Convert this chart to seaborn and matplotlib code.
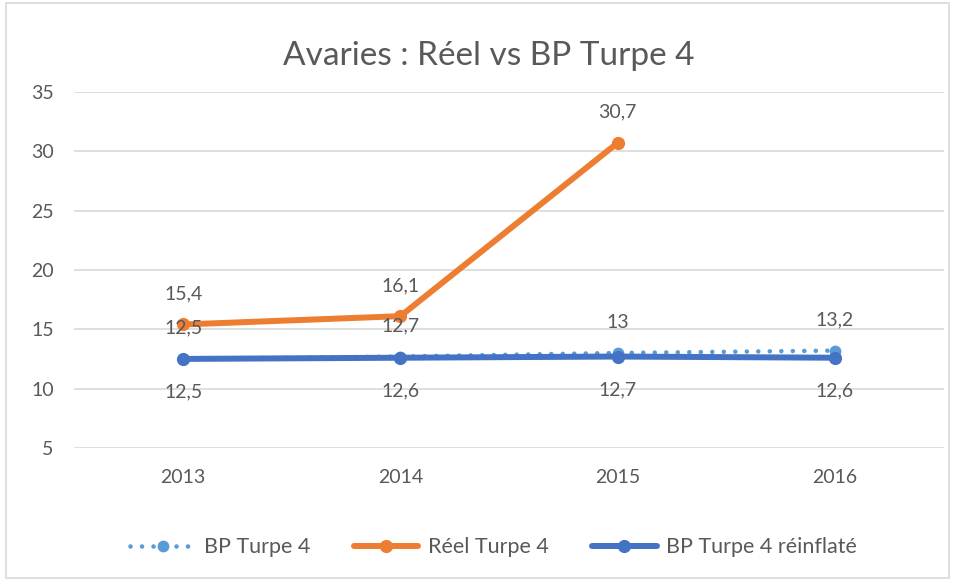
import numpy as np
import pandas as pd

import matplotlib
matplotlib.use("Agg")
import matplotlib.pyplot as plt
import seaborn as sns

sns.set_theme(style="white")
plt.rcParams['font.family'] = ['Lato', 'DejaVu Sans']

# -- Data -- #
years = ['2013', '2014', '2015', '2016']
bp_turpe = [12.5, 12.7, 13.0, 13.2]
reel_turpe = [15.4, 16.1, 30.7, np.nan]
bp_reinflate = [12.5, 12.6, 12.7, 12.6]

series_names = ['BP Turpe 4', 'Réel Turpe 4', 'BP Turpe 4 réinflaté']
series_values = [bp_turpe, reel_turpe, bp_reinflate]
colors = ['#5B9BD5', '#ED7D31', '#4472C4']
label_side = [1, 1, -1]

txt = '#595959'

fig = plt.figure(figsize=(9.55, 5.81), dpi=100)
ax = fig.add_axes([0.078, 0.229, 0.91, 0.613])

for name, vals, col in zip(series_names, series_values, colors):
    df = pd.DataFrame({'Year': years, 'value': vals})
    if name == 'BP Turpe 4':
        sns.lineplot(data=df, x='Year', y='value', ax=ax, color=col, linewidth=3.3,
                     linestyle=(0, (0.01, 2.5)), dash_capstyle='round',
                     marker='o', markersize=8.5, markeredgewidth=0, label=name)
    else:
        sns.lineplot(data=df.dropna(), x='Year', y='value', ax=ax, color=col,
                     linewidth=4.3, solid_capstyle='round',
                     marker='o', markersize=9.5, markeredgewidth=0, label=name)

# data labels, drawn over the lines
for vals, side in zip(series_values, label_side):
    for i, v in enumerate(vals):
        if np.isnan(v):
            continue
        off = 22 if side > 0 else -24
        ax.annotate(f"{v:g}".replace('.', ','), (i, v), xytext=(0, off),
                    textcoords='offset points', ha='center', va='center',
                    fontsize=14, color=txt, zorder=10)

ax.set_ylim(5, 35)
ax.set_yticks(range(5, 36, 5))
ax.set_xlim(-0.5, 3.5)
ax.yaxis.grid(True, color='#D9D9D9', linewidth=1.2)
ax.xaxis.grid(False)
for s in ax.spines.values():
    s.set_visible(False)
ax.tick_params(axis='both', length=0, labelsize=14, colors=txt)
ax.tick_params(axis='x', pad=15.5)
ax.tick_params(axis='y', pad=15)
ax.set_xlabel('')
ax.set_ylabel('')

fig.suptitle('Avaries : Réel vs BP Turpe 4', x=0.512, y=0.93, fontsize=24, color=txt)

ax.legend(loc='center', bbox_to_anchor=(0.517, 0.058), bbox_transform=fig.transFigure,
          ncol=3, frameon=False, fontsize=15.5, labelcolor=txt, handlelength=3.0,
          columnspacing=2.0, handletextpad=0.45)

fig.patches.append(plt.Rectangle((0.006, 0.006), 0.988, 0.988, transform=fig.transFigure,
                                 fill=False, edgecolor='#D9D9D9', linewidth=1.2))

fig.savefig('out.png', dpi=100)
plt.close()
